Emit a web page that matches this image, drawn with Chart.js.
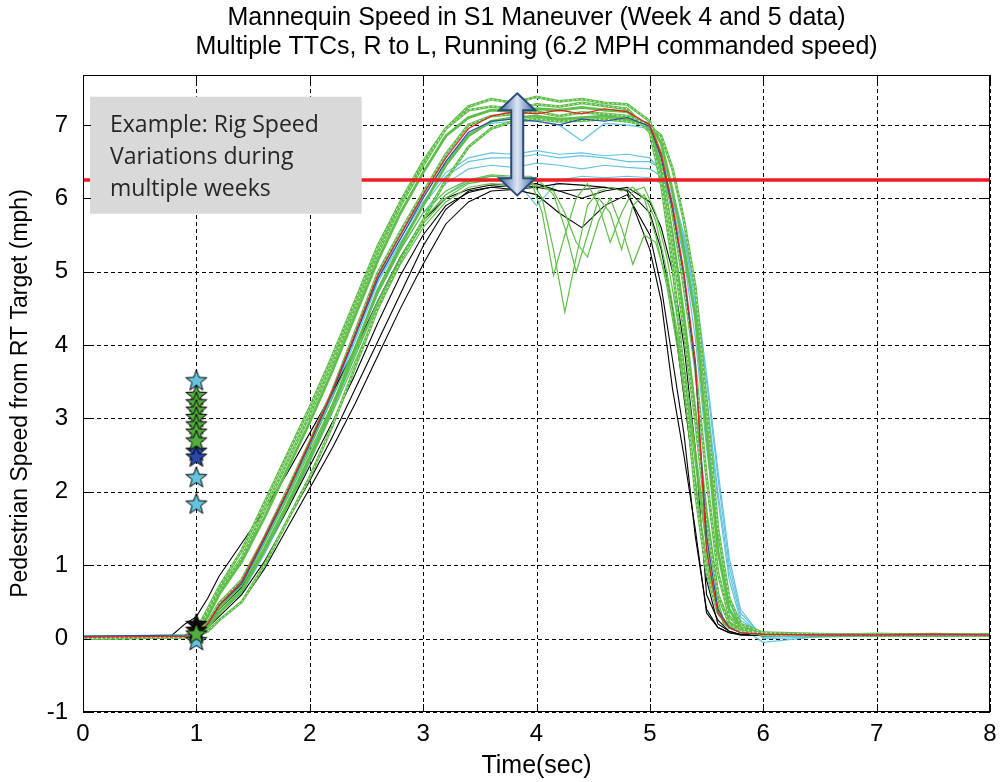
<!DOCTYPE html>
<html>
  <head>
    <title>Mannequin Speed</title>
    <script src="https://cdn.jsdelivr.net/npm/chart.js"></script>
    <style>
      body { margin: 0; background: #fff; }
      #wrap { width: 1001px; height: 782px; }
    </style>
  </head>
  <body>
    <div id="wrap"><canvas id="speed"></canvas></div>

    <script>
      // time base shared by most runs (sec)
      const timeGrid = [0, 0.9, 1.0, 1.1, 1.2,
        1.4, 1.6, 1.8, 2.0, 2.2, 2.4, 2.6, 2.8, 3.0, 3.2, 3.4,
        3.6, 3.8, 4.0, 4.2, 4.4, 4.6, 4.8,
        5.0, 5.1, 5.2, 5.3, 5.4, 5.5, 5.6, 5.7, 5.8,
        6.0, 6.5, 7.0, 7.5, 8.0];

      // finer time base for the runs that sag on the plateau
      const sagTime = [0, 0.9, 1.0, 1.1, 1.2,
        1.4, 1.6, 1.8, 2.0, 2.2, 2.4, 2.6, 2.8, 3.0, 3.2, 3.4,
        3.6, 3.8, 3.95, 4.05, 4.15, 4.25, 4.35, 4.45, 4.55, 4.65, 4.75, 4.85, 4.95,
        5.05, 5.15, 5.25, 5.35, 5.45, 5.55, 5.65, 5.8,
        6.0, 7.0, 8.0];

      // the black run that starts moving early
      const earlyTime = [0, 0.78, 0.9, 1.0, 1.1, 1.2,
        1.4, 1.6, 1.8, 2.0, 2.2, 2.4, 2.6, 2.8, 3.0, 3.2, 3.4,
        3.6, 3.8, 4.0, 4.2, 4.4, 4.6, 4.8,
        5.0, 5.1, 5.2, 5.3, 5.4, 5.5, 5.6, 5.7, 5.8,
        6.0, 6.5, 7.0, 7.5, 8.0];

      // green runs, ~7.2 mph plateau
      const greenFast1 = [0.02, 0.04, 0.12, 0.4, 0.7,
        1.2, 1.85, 2.5, 3.15, 3.85, 4.6, 5.35, 5.95, 6.5, 6.95, 7.2,
        7.25, 7.22, 7.28, 7.25, 7.3, 7.26, 7.22,
        6.9, 6.2, 5.1, 3.6, 2.0, 0.9, 0.35, 0.15, 0.1,
        0.06, 0.05, 0.06, 0.05, 0.05];
      const greenFast2 = [0.01, 0.03, 0.08, 0.3, 0.6,
        1.05, 1.65, 2.3, 2.95, 3.65, 4.4, 5.15, 5.8, 6.35, 6.85, 7.1,
        7.2, 7.18, 7.22, 7.2, 7.24, 7.2, 7.18,
        6.95, 6.4, 5.5, 4.4, 3.1, 1.7, 0.6, 0.22, 0.12,
        0.07, 0.04, 0.05, 0.04, 0.05];
      const greenFast3 = [0.02, 0.03, 0.05, 0.22, 0.48,
        0.8, 1.38, 2.02, 2.68, 3.38, 4.18, 4.98, 5.55, 6.08, 6.6, 7.0,
        7.12, 7.15, 7.18, 7.12, 7.17, 7.15, 7.12,
        7.0, 6.6, 5.8, 4.8, 3.7, 2.2, 0.9, 0.3, 0.14,
        0.06, 0.05, 0.04, 0.05, 0.04];
      const greenFast4 = [0.0, 0.02, 0.04, 0.15, 0.35,
        0.65, 1.2, 1.8, 2.45, 3.15, 3.95, 4.75, 5.35, 5.9, 6.45, 6.85,
        7.05, 7.1, 7.12, 7.08, 7.1, 7.12, 7.08,
        7.02, 6.75, 6.1, 5.3, 4.4, 2.8, 1.2, 0.4, 0.15,
        0.07, 0.05, 0.05, 0.04, 0.05];
      const greenFast5 = [0.0, 0.02, 0.03, 0.1, 0.25,
        0.5, 1.0, 1.6, 2.2, 2.9, 3.7, 4.5, 5.15, 5.7, 6.25, 6.7,
        6.95, 7.05, 7.08, 7.05, 7.06, 7.08, 7.05,
        6.98, 6.85, 6.4, 5.7, 4.8, 3.2, 1.5, 0.55, 0.2,
        0.08, 0.06, 0.05, 0.06, 0.05];
      const greenFast6 = [0.01, 0.03, 0.1, 0.35, 0.65,
        1.1, 1.75, 2.4, 3.05, 3.75, 4.5, 5.25, 5.9, 6.45, 6.95, 7.25,
        7.35, 7.3, 7.38, 7.32, 7.35, 7.3, 7.28,
        7.05, 6.5, 5.4, 4.2, 3.0, 1.6, 0.6, 0.2, 0.1,
        0.05, 0.05, 0.06, 0.05, 0.05];

      // green runs, ~6.2 mph plateau with sags (sagTime)
      const greenSag1 = [0.02, 0.03, 0.05, 0.18, 0.4,
        0.72, 1.25, 1.85, 2.5, 3.15, 3.85, 4.55, 5.15, 5.65, 6.0, 6.2,
        6.25, 6.22, 6.25, 6.0, 5.3, 4.45, 5.2, 5.9, 6.1, 6.15, 6.1, 6.15, 6.0,
        5.5, 4.8, 3.9, 2.8, 1.6, 0.6, 0.2, 0.08,
        0.05, 0.05, 0.05];
      const greenSag2 = [0.01, 0.03, 0.06, 0.2, 0.42,
        0.75, 1.3, 1.9, 2.55, 3.2, 3.9, 4.6, 5.2, 5.7, 6.05, 6.22,
        6.3, 6.28, 6.25, 5.8, 4.95, 5.5, 6.0, 6.2, 5.9, 5.4, 5.8, 6.1, 6.15,
        5.8, 5.2, 4.3, 3.2, 2.0, 0.8, 0.25, 0.1,
        0.05, 0.05, 0.05];
      const greenSag3 = [0.02, 0.03, 0.05, 0.16, 0.36,
        0.68, 1.2, 1.78, 2.42, 3.08, 3.78, 4.48, 5.1, 5.6, 5.95, 6.15,
        6.2, 6.18, 6.2, 6.15, 6.1, 5.8, 5.4, 5.2, 5.7, 6.0, 5.6, 5.1, 5.5,
        5.4, 4.9, 4.0, 3.0, 1.8, 0.7, 0.2, 0.08,
        0.05, 0.05, 0.05];
      const greenSag4 = [0.02, 0.04, 0.07, 0.22, 0.45,
        0.8, 1.35, 1.95, 2.6, 3.28, 3.98, 4.7, 5.3, 5.8, 6.1, 6.25,
        6.32, 6.3, 6.3, 6.2, 6.05, 5.6, 5.0, 5.5, 6.0, 5.8, 5.3, 5.9, 6.05,
        5.7, 5.0, 4.1, 3.1, 1.9, 0.7, 0.2, 0.08,
        0.05, 0.05, 0.05];

      // cyan runs, ~6.5 mph plateau
      const cyan1 = [0.03, 0.04, 0.05, 0.18, 0.4,
        0.72, 1.3, 1.92, 2.6, 3.3, 4.05, 4.85, 5.4, 5.9, 6.3, 6.5,
        6.55, 6.55, 6.6, 6.55, 6.58, 6.55, 6.5,
        6.5, 6.4, 6.05, 5.4, 4.5, 3.2, 1.9, 0.8, 0.25,
        0.05, 0.05, 0.04, 0.05, 0.04];
      const cyan2 = [0.02, 0.03, 0.04, 0.15, 0.35,
        0.65, 1.2, 1.82, 2.5, 3.2, 3.95, 4.7, 5.3, 5.8, 6.2, 6.4,
        6.45, 6.42, 6.48, 6.45, 6.4, 6.45, 6.42,
        6.4, 6.3, 6.0, 5.5, 4.8, 3.6, 2.3, 1.1, 0.4,
        0.0, 0.02, 0.04, 0.03, 0.05];
      const cyan3 = [0.03, 0.04, 0.06, 0.2, 0.42,
        0.75, 1.32, 1.95, 2.62, 3.32, 4.1, 4.88, 5.45, 5.95, 6.35, 6.55,
        6.62, 6.6, 6.65, 6.6, 6.62, 6.58, 6.6,
        6.55, 6.35, 5.9, 5.2, 4.1, 2.6, 1.4, 0.5, 0.15,
        -0.05, 0.03, 0.05, 0.04, 0.05];
      const cyan4 = [0.02, 0.04, 0.05, 0.2, 0.45,
        0.78, 1.36, 2.0, 2.68, 3.38, 4.15, 4.92, 5.5, 6.02, 6.5, 6.88,
        7.02, 7.05, 7.05, 7.0, 6.78, 7.02, 7.0,
        6.95, 6.6, 6.1, 5.5, 4.6, 3.3, 2.0, 0.9, 0.3,
        0.02, 0.05, 0.04, 0.05, 0.04];
      const cyan5 = [0.02, 0.03, 0.05, 0.15, 0.35,
        0.62, 1.15, 1.75, 2.4, 3.1, 3.85, 4.6, 5.2, 5.7, 6.05, 6.25,
        6.3, 6.28, 5.9, 6.25, 6.3, 6.28, 6.3,
        6.28, 6.2, 5.95, 5.45, 4.7, 3.5, 2.2, 1.0, 0.35,
        0.02, 0.04, 0.05, 0.04, 0.05];

      // black runs, ~6.1 mph plateau
      const black1 = [0.01, 0.02, 0.04, 0.15, 0.3,
        0.6, 1.05, 1.6, 2.15, 2.75, 3.4, 4.05, 4.7, 5.35, 5.85, 6.1,
        6.15, 6.12, 6.15, 6.1, 6.12, 6.15, 6.1,
        5.3, 4.6, 3.4, 2.5, 1.5, 0.35, 0.15, 0.08, 0.06,
        0.05, 0.04, 0.05, 0.04, 0.05];
      const black2 = [0.03, 0.04, 0.2, 0.3, 0.55, 0.85,
        1.3, 1.75, 2.25, 2.8, 3.35, 3.95, 4.6, 5.2, 5.7, 6.0, 6.12,
        6.18, 6.2, 6.15, 6.2, 6.18, 6.15, 6.12,
        5.8, 5.3, 4.5, 3.3, 2.1, 0.8, 0.2, 0.1, 0.05,
        0.04, 0.05, 0.05, 0.05, 0.05];
      const black3 = [0.01, 0.02, 0.03, 0.1, 0.25,
        0.5, 0.95, 1.5, 2.05, 2.6, 3.2, 3.85, 4.5, 5.1, 5.65, 5.95,
        6.1, 6.12, 6.05, 5.8, 5.6, 5.9, 6.05,
        5.5, 4.8, 3.8, 2.8, 1.4, 0.4, 0.15, 0.08, 0.05,
        0.05, 0.04, 0.05, 0.05, 0.05];
      const black4 = [0.02, 0.03, 0.05, 0.18, 0.4,
        0.7, 1.2, 1.75, 2.35, 2.95, 3.6, 4.3, 4.95, 5.5, 5.9, 6.08,
        6.15, 6.18, 6.2, 6.1, 6.0, 6.1, 6.15,
        5.95, 5.6, 5.0, 4.0, 2.6, 0.6, 0.25, 0.1, 0.06,
        0.05, 0.05, 0.05, 0.05, 0.05];

      const red1 = [0.02, 0.03, 0.05, 0.2, 0.45,
        0.78, 1.38, 2.0, 2.68, 3.38, 4.15, 4.95, 5.5, 6.05, 6.55, 6.95,
        7.12, 7.18, 7.15, 7.2, 7.15, 7.22, 7.18,
        7.0, 6.6, 5.9, 5.0, 3.8, 1.2, 0.35, 0.15, 0.08,
        0.06, 0.05, 0.05, 0.06, 0.05];
      const blue1 = [0.03, 0.05, 0.06, 0.2, 0.45,
        0.75, 1.35, 1.98, 2.65, 3.35, 4.12, 4.9, 5.45, 6.0, 6.5, 6.9,
        7.05, 7.08, 7.05, 7.0, 7.08, 7.05, 7.1,
        6.98, 6.55, 5.85, 4.95, 3.7, 1.4, 0.4, 0.15, 0.08,
        0.06, 0.05, 0.05, 0.05, 0.05];

      // commanded speed line
      const targetTime = [0, 8];
      const targetSpeed = [6.25, 6.25];

      // speed at the 1 sec trigger, star markers
      const starTime = 1;
      const starCyan = [3.52, 2.2, 1.84, -0.02];
      const starBlue = [2.56, 2.48];
      const starBlack = [0.2, 0.12];
      const starGreen = [3.32, 3.22, 3.12, 3.02, 2.92, 2.82, 2.7, 0.07];

      const xTicks = [0, 1, 2, 3, 4, 5, 6, 7, 8];
      const yTicks = [-1, 0, 1, 2, 3, 4, 5, 6, 7];

      const GREEN = "rgb(96,190,74)";
      const CYAN = "rgb(100,196,222)";
      const RED = "rgb(236,28,36)";
      const BLUE = "rgb(40,72,170)";

      function pairs(ts, vs) {
        return vs.map((v, i) => ({ x: ts[i], y: v }));
      }

      function run(ts, vs, color, width, dash) {
        return {
          data: pairs(ts, vs),
          showLine: true,
          borderColor: color,
          borderWidth: width,
          borderDash: dash || [],
          pointRadius: 0,
          tension: 0,
        };
      }

      function starImage(fill) {
        const c = document.createElement("canvas");
        c.width = 24;
        c.height = 24;
        const g = c.getContext("2d");
        g.beginPath();
        for (let i = 0; i < 10; i++) {
          const r = i % 2 ? 4.6 : 11;
          const a = -Math.PI / 2 + (i * Math.PI) / 5;
          g.lineTo(12 + r * Math.cos(a), 12.8 + r * Math.sin(a));
        }
        g.closePath();
        g.fillStyle = fill;
        g.fill();
        g.strokeStyle = "#000";
        g.lineWidth = 1;
        g.stroke();
        return c;
      }

      function stars(vals, fill) {
        return {
          data: vals.map((v) => ({ x: starTime, y: v })),
          showLine: false,
          pointStyle: starImage(fill),
          pointRadius: 10,
        };
      }

      const speckle = "rgba(255,255,255,0.85)";

      // listed bottom to top
      let layers = [
        run(timeGrid, cyan1, CYAN, 1.2),
        run(timeGrid, cyan2, CYAN, 1.2),
        run(timeGrid, cyan3, CYAN, 1.2),
        run(timeGrid, cyan4, CYAN, 1.2),
        run(timeGrid, cyan5, CYAN, 1.2),
        run(timeGrid, black1, "#000", 1.1),
        run(earlyTime, black2, "#000", 1.1),
        run(timeGrid, black3, "#000", 1.1),
        run(timeGrid, black4, "#000", 1.1),
        run(sagTime, greenSag1, GREEN, 1.2),
        run(sagTime, greenSag2, GREEN, 1.2),
        run(sagTime, greenSag3, GREEN, 1.2),
        run(sagTime, greenSag4, GREEN, 1.2),
        run(timeGrid, greenFast1, GREEN, 2.8),
        run(timeGrid, greenFast2, GREEN, 2.8),
        run(timeGrid, greenFast3, GREEN, 2.8),
        run(timeGrid, greenFast4, GREEN, 2.8),
        run(timeGrid, greenFast5, GREEN, 2.8),
        run(timeGrid, greenFast6, GREEN, 2.8),
        run(timeGrid, greenFast1, speckle, 1, [1.5, 3]),
        run(timeGrid, greenFast3, speckle, 1, [1.5, 3]),
        run(timeGrid, greenFast5, speckle, 1, [1.5, 3]),
        run(timeGrid, greenFast6, speckle, 1, [1.5, 3]),
        run(timeGrid, blue1, BLUE, 1.1),
        run(timeGrid, red1, RED, 1.2),
        run(targetTime, targetSpeed, RED, 3.5),
        stars(starCyan, CYAN),
        stars(starBlue, BLUE),
        stars(starBlack, "#111"),
        stars(starGreen, "rgb(84,172,64)"),
      ];
      // chart.js paints dataset 0 last
      layers = layers.reverse();

      const gridLines = {
        id: "gridLines",
        beforeDatasetsDraw(chart) {
          const { ctx, chartArea: a, scales } = chart;
          ctx.save();
          ctx.strokeStyle = "#000";
          ctx.lineWidth = 1;
          ctx.setLineDash([4, 3]);
          xTicks.forEach((t) => {
            const px = Math.round(scales.x.getPixelForValue(t)) + 0.5;
            ctx.beginPath();
            ctx.moveTo(px, a.top);
            ctx.lineTo(px, a.bottom);
            ctx.stroke();
          });
          yTicks.forEach((v) => {
            const py = Math.round(scales.y.getPixelForValue(v)) + 0.5;
            ctx.beginPath();
            ctx.moveTo(a.left, py);
            ctx.lineTo(a.right, py);
            ctx.stroke();
          });
          ctx.restore();
        },
      };

      const overlay = {
        id: "overlay",
        afterDatasetsDraw(chart) {
          const { ctx, chartArea: a, scales } = chart;
          const x = scales.x, y = scales.y;

          // double arrow showing the spread
          const ax = x.getPixelForValue(3.83);
          const top = y.getPixelForValue(7.43);
          const bot = y.getPixelForValue(6.04);
          const sw = 6, hw = 18, hl = 17;
          ctx.save();
          ctx.beginPath();
          ctx.moveTo(ax, top);
          ctx.lineTo(ax + hw, top + hl);
          ctx.lineTo(ax + sw, top + hl);
          ctx.lineTo(ax + sw, bot - hl);
          ctx.lineTo(ax + hw, bot - hl);
          ctx.lineTo(ax, bot);
          ctx.lineTo(ax - hw, bot - hl);
          ctx.lineTo(ax - sw, bot - hl);
          ctx.lineTo(ax - sw, top + hl);
          ctx.lineTo(ax - hw, top + hl);
          ctx.closePath();
          const grad = ctx.createLinearGradient(ax - hw, 0, ax + hw, 0);
          grad.addColorStop(0, "#3d63a0");
          grad.addColorStop(0.5, "#dce6f4");
          grad.addColorStop(1, "#3d63a0");
          ctx.fillStyle = grad;
          ctx.fill();
          ctx.strokeStyle = "#2b4a78";
          ctx.lineWidth = 2;
          ctx.stroke();
          ctx.restore();

          // note box
          const bx0 = x.getPixelForValue(0.062), bx1 = x.getPixelForValue(2.458);
          const by0 = y.getPixelForValue(7.384), by1 = y.getPixelForValue(5.79);
          ctx.save();
          ctx.fillStyle = "#d9d9d9";
          ctx.fillRect(bx0, by0, bx1 - bx0, by1 - by0);
          ctx.fillStyle = "#262626";
          ctx.font = '23px "Open Sans"';
          ctx.textBaseline = "middle";
          ["Example: Rig Speed", "Variations during", "multiple weeks"].forEach((s, i) => {
            ctx.fillText(s, bx0 + 20, by0 + 29 + i * 32);
          });
          ctx.restore();

          // axes box with inward ticks
          ctx.save();
          ctx.strokeStyle = "#000";
          ctx.lineWidth = 1;
          ctx.strokeRect(a.left + 0.5, a.top + 0.5, a.right - a.left - 1, a.bottom - a.top - 1);
          ctx.beginPath();
          xTicks.forEach((t) => {
            const px = Math.round(x.getPixelForValue(t)) + 0.5;
            ctx.moveTo(px, a.bottom);
            ctx.lineTo(px, a.bottom - 8);
            ctx.moveTo(px, a.top);
            ctx.lineTo(px, a.top + 8);
          });
          yTicks.forEach((v) => {
            const py = Math.round(y.getPixelForValue(v)) + 0.5;
            ctx.moveTo(a.left, py);
            ctx.lineTo(a.left + 8, py);
            ctx.moveTo(a.right, py);
            ctx.lineTo(a.right - 8, py);
          });
          ctx.stroke();
          ctx.restore();
        },
      };

      const tickFont = { family: "Liberation Sans", size: 24 };

      new Chart(document.getElementById("speed"), {
        type: "scatter",
        data: { datasets: layers },
        options: {
          responsive: true,
          maintainAspectRatio: false,
          animation: false,
          layout: { padding: { right: 10 } },
          plugins: {
            legend: { display: false },
            tooltip: { enabled: false },
            title: {
              display: true,
              fullSize: false,
              text: [
                "Mannequin Speed in S1 Maneuver (Week 4 and 5 data)",
                "Multiple TTCs, R to L, Running (6.2 MPH commanded speed)",
              ],
              color: "#000",
              font: { family: "Liberation Sans", size: 25, weight: "normal", lineHeight: 1.16 },
              padding: { top: 4, bottom: 13 },
            },
          },
          scales: {
            x: {
              type: "linear",
              min: 0,
              max: 8,
              grid: { display: false },
              border: { display: false },
              afterBuildTicks: (s) => { s.ticks = xTicks.map((v) => ({ value: v })); },
              afterFit: (s) => { s.height = 70; },
              ticks: { color: "#000", font: tickFont, padding: 0, maxRotation: 0 },
              title: {
                display: true,
                text: "Time(sec)",
                color: "#000",
                font: { family: "Liberation Sans", size: 25 },
                padding: { top: 0, bottom: 1 },
              },
            },
            y: {
              min: -1,
              max: 7.68,
              grid: { display: false },
              border: { display: false },
              afterBuildTicks: (s) => { s.ticks = yTicks.map((v) => ({ value: v })); },
              afterFit: (s) => { s.width = 83; },
              ticks: { color: "#000", font: tickFont, padding: 7 },
              title: {
                display: true,
                text: "Pedestrian Speed from RT Target (mph)",
                color: "#000",
                font: { family: "Liberation Sans", size: 23 },
                padding: { top: 7, bottom: 0 },
              },
            },
          },
        },
        plugins: [gridLines, overlay],
      });
    </script>
  </body>
</html>
